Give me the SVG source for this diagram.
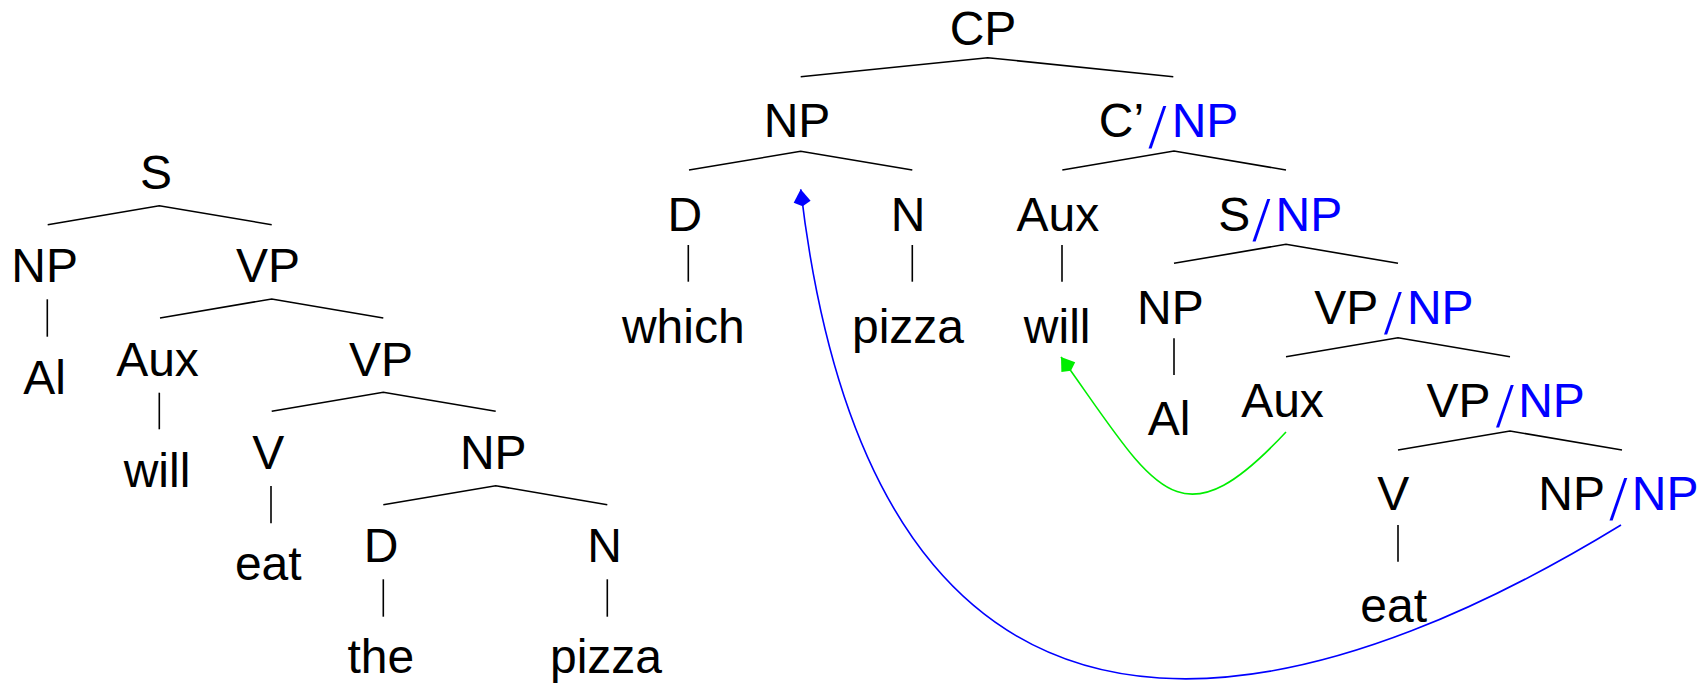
<svg xmlns="http://www.w3.org/2000/svg" width="1703" height="684" viewBox="0 0 1703 684">
<style>
  text { font-family: "Liberation Sans", Arial, sans-serif; font-size: 48px; fill: #000; text-anchor: middle; }
  text.g { fill: #0000ff; }
  text.sl { fill: #0000ff; font-family: "Liberation Serif", "Times New Roman", serif; font-size: 64px; }
  .edge { fill: none; stroke: #000; stroke-width: 1.6; }
  .mv { fill: none; stroke: #0000ff; stroke-width: 1.6; }
  .mg { fill: none; stroke: #00ee00; stroke-width: 1.6; }
</style>
<defs>
  <marker id="ahb" viewBox="0 0 17 18" markerWidth="17" markerHeight="18" refX="17" refY="9" orient="auto" markerUnits="userSpaceOnUse">
    <path d="M17,9 L4.5,0.5 L0,9 L4.5,17.5 Z" fill="#0000ff"/>
  </marker>
  <marker id="ahg" viewBox="0 0 17 18" markerWidth="17" markerHeight="18" refX="17" refY="9" orient="auto" markerUnits="userSpaceOnUse">
    <path d="M17,9 L4.5,0.5 L0,9 L4.5,17.5 Z" fill="#00ee00"/>
  </marker>
</defs>

<!-- Left tree -->
<g id="l-S"><text x="156" y="189">S</text></g>
<g id="l-NP"><text x="44.7" y="281.7">NP</text></g>
<g id="l-Al"><text x="44.5" y="394">Al</text></g>
<g id="l-VP1"><text x="268" y="281.7">VP</text></g>
<g id="l-Aux"><text x="157.5" y="376">Aux</text></g>
<g id="l-will"><text x="157" y="487">will</text></g>
<g id="l-VP2"><text x="381" y="376">VP</text></g>
<g id="l-V"><text x="268.3" y="469">V</text></g>
<g id="l-eat"><text x="268.3" y="580">eat</text></g>
<g id="l-NP2"><text x="493.3" y="469">NP</text></g>
<g id="l-D"><text x="381" y="562">D</text></g>
<g id="l-the"><text x="380.8" y="673">the</text></g>
<g id="l-N"><text x="604.7" y="562">N</text></g>
<g id="l-pizza"><text x="606" y="673">pizza</text></g>

<!-- Right tree -->
<g id="r-CP"><text x="983" y="45">CP</text></g>
<g id="r-NP"><text x="797" y="137.3">NP</text></g>
<g id="r-D"><text x="684.8" y="230.7">D</text></g>
<g id="r-which"><text x="683.3" y="343.3">which</text></g>
<g id="r-N"><text x="908" y="230.7">N</text></g>
<g id="r-pizza"><text x="908" y="343.3">pizza</text></g>
<g id="r-Cbar"><text x="1121.4" y="137.3">C’</text><text class="sl" x="1157.5" y="147.5">/</text><text class="g" x="1205" y="137.3">NP</text></g>
<g id="r-Aux1"><text x="1057.8" y="230.7">Aux</text></g>
<g id="r-will"><text x="1057.2" y="343.3">will</text></g>
<g id="r-S"><text x="1234.3" y="230.7">S</text><text class="sl" x="1261.5" y="240.9">/</text><text class="g" x="1308.9" y="230.7">NP</text></g>
<g id="r-NP2"><text x="1170.4" y="324">NP</text></g>
<g id="r-Al"><text x="1169" y="435">Al</text></g>
<g id="r-VP1"><text x="1346.3" y="324">VP</text><text class="sl" x="1393" y="334.2">/</text><text class="g" x="1440.3" y="324">NP</text></g>
<g id="r-Aux2"><text x="1282.5" y="417">Aux</text></g>
<g id="r-VP2"><text x="1458.5" y="417">VP</text><text class="sl" x="1505" y="427.2">/</text><text class="g" x="1551.5" y="417">NP</text></g>
<g id="r-V"><text x="1393.2" y="510">V</text></g>
<g id="r-eat"><text x="1393.7" y="621.7">eat</text></g>
<g id="r-NP3"><text x="1571.7" y="510">NP</text><text class="sl" x="1618.5" y="520.2">/</text><text class="g" x="1665.1" y="510">NP</text></g>

<g id="connectors">
  <!-- left tree -->
  <polyline class="edge" points="47.7,224.7 159.3,205.7 271.7,224.7"/>
  <line class="edge" x1="47.3" y1="299.3" x2="47.3" y2="336.7"/>
  <polyline class="edge" points="160,318 271.7,299 383.3,318"/>
  <line class="edge" x1="159.3" y1="392.7" x2="159.3" y2="429.3"/>
  <polyline class="edge" points="271.7,411.3 383.3,392.3 495.7,411.3"/>
  <line class="edge" x1="271" y1="486" x2="271" y2="523.3"/>
  <polyline class="edge" points="383.3,504.7 495.7,485.7 607.3,504.7"/>
  <line class="edge" x1="383.3" y1="579.3" x2="383.3" y2="616.7"/>
  <line class="edge" x1="607.3" y1="579.3" x2="607.3" y2="616.7"/>
  <!-- right tree -->
  <polyline class="edge" points="800.7,76.7 987.7,57.7 1173.3,76.7"/>
  <polyline class="edge" points="689,170 800.7,151.3 912.3,170"/>
  <line class="edge" x1="688.3" y1="245" x2="688.3" y2="281.7"/>
  <line class="edge" x1="912.3" y1="245" x2="912.3" y2="281.7"/>
  <polyline class="edge" points="1062.3,170 1174,151 1286,170"/>
  <line class="edge" x1="1062" y1="245" x2="1062" y2="281.7"/>
  <polyline class="edge" points="1174,263.3 1286,244.3 1398,263.3"/>
  <line class="edge" x1="1174" y1="338.3" x2="1174" y2="375"/>
  <polyline class="edge" points="1286,356.7 1398,337.7 1510,356.7"/>
  <polyline class="edge" points="1398,450 1510,431 1622,450"/>
  <line class="edge" x1="1398" y1="525" x2="1398" y2="561.7"/>
  <!-- movement arrows -->
  <path class="mg" d="M1286,432 C1177,549 1155,488 1061,357" marker-end="url(#ahg)"/>
  <path class="mv" d="M1621,525 C1400,660 885,910 800.7,189.3" marker-end="url(#ahb)"/>
</g>
</svg>
